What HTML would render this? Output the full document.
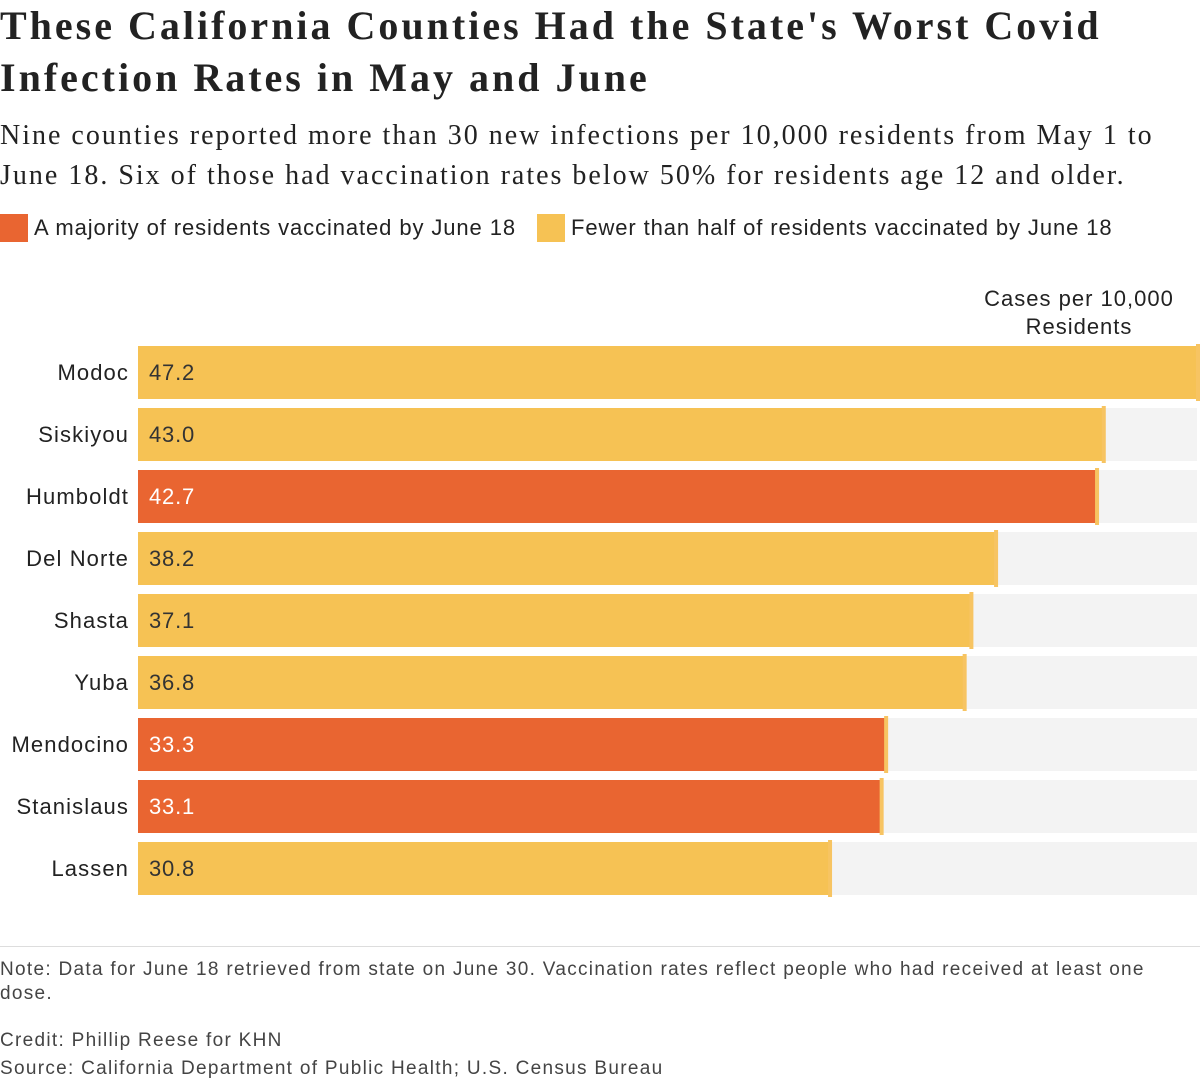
<!DOCTYPE html>
<html><head><meta charset="utf-8"><style>
body{margin:0;width:1200px;height:1082px;background:#fff;font-family:"Liberation Sans",sans-serif;color:#222;position:relative;overflow:hidden}
h1{position:absolute;left:0;top:0;margin:0;font-family:"Liberation Serif",serif;font-weight:bold;font-size:40px;line-height:52px;width:1200px;color:#222;letter-spacing:3px;white-space:nowrap}
.sub{position:absolute;left:0;top:116px;font-family:"Liberation Serif",serif;font-size:28px;line-height:40px;color:#222;width:1200px;letter-spacing:2px;white-space:nowrap}
.leg{position:absolute;top:214px;font-size:22px;line-height:28px;display:flex;align-items:center;letter-spacing:0.9px;white-space:nowrap}
.sw{width:28px;height:28px;margin-right:6px;display:inline-block}
.foot{position:absolute;left:0;font-size:19px;line-height:24px;color:#444;width:1200px;letter-spacing:1.3px;white-space:nowrap}
</style></head><body>
<h1>These California Counties Had the State's Worst Covid<br>Infection Rates in May and June</h1>
<div class="sub">Nine counties reported more than 30 new infections per 10,000 residents from May 1 to<br>June 18. Six of those had vaccination rates below 50% for residents age 12 and older.</div>
<div class="leg" style="left:0"><span class="sw" style="background:#e96531"></span>A majority of residents vaccinated by June 18</div>
<div class="leg" style="left:537px"><span class="sw" style="background:#f6c254"></span>Fewer than half of residents vaccinated by June 18</div>
<svg id="chart" width="1200" height="940" style="position:absolute;left:0;top:0">
<text x="1079" y="306" text-anchor="middle" font-size="22" fill="#222" letter-spacing="1"><tspan x="1079">Cases per 10,000</tspan><tspan x="1079" dy="28">Residents</tspan></text>
</svg>
<div style="position:absolute;left:0;top:946px;width:1200px;height:1px;background:#ddd"></div>
<div class="foot" style="top:958px">Note: Data for June 18 retrieved from state on June 30. Vaccination rates reflect people who had received at least one<br>dose.</div>
<div class="foot" style="top:1029px">Credit: Phillip Reese for KHN</div>
<div class="foot" style="top:1057px">Source: California Department of Public Health; U.S. Census Bureau</div>
<script>
const counties=["Modoc","Siskiyou","Humboldt","Del Norte","Shasta","Yuba","Mendocino","Stanislaus","Lassen"];
const values=[47.2,43.0,42.7,38.2,37.1,36.8,33.3,33.1,30.8];
const majority=[false,false,true,false,false,false,true,true,false];
const maxV=47.2;
const x0=138,x1=1197;
function x(v){return x0+v/maxV*(x1-x0);}
function y(i){return 346+i*62;}
const svg=document.getElementById('chart');
const NS='http://www.w3.org/2000/svg';
function mk(t,a){const e=document.createElementNS(NS,t);for(const k in a)e.setAttribute(k,a[k]);svg.appendChild(e);return e;}
counties.forEach((c,i)=>{
  const bg=mk('rect',{x:x0,y:y(i),width:x1-x0,height:53,fill:'#f3f3f3'});
  
  
  const w=x(values[i])-x0;
  const b=mk('rect',{x:x0,y:y(i),width:w,height:53,fill:majority[i]?'#e96531':'#f6c254'});
  
  
  const m=mk('rect',{x:x0+w-1,y:y(i)-2,width:4,height:57,fill:'#f7c462'});
  
  
  const l=mk('text',{x:129,y:y(i)+34,'text-anchor':'end','font-size':22,fill:'#222','letter-spacing':1.1});
  l.textContent=c;
  
  
  const v=mk('text',{x:149,y:y(i)+34,'font-size':22,fill:majority[i]?'#fff':'#333','letter-spacing':0.8});
  v.textContent=values[i].toFixed(1);
  
  
});
</script>
</body></html>
